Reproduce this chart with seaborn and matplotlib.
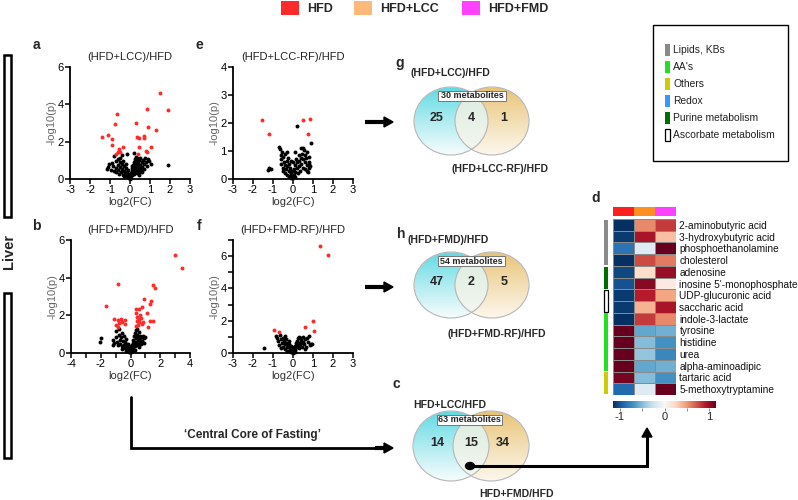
import numpy as np
import pandas as pd
import matplotlib
matplotlib.use('Agg')
import matplotlib.pyplot as plt
import seaborn as sns
from matplotlib.patches import Rectangle, Ellipse, Polygon

# ---------------- data ----------------
RED = '#ff2a2a'

a_black_fc = [-1.15, -1.05, -0.9, -0.85, -0.82, -0.78, -0.72, -0.7, -0.68, -0.62, -0.6, -0.58, -0.55, -0.52, -0.5,
              -0.48, -0.45, -0.42, -0.4, -0.38, -0.35, -0.33, -0.3, -0.28, -0.25, -0.22, -0.2, -0.18, -0.16, -0.15,
              -0.12, -0.1, -0.08, -0.06, -0.04, -0.02, 0.0, 0.02, 0.04, 0.06, 0.08, 0.1, 0.12, 0.14, 0.15, 0.17,
              0.18, 0.2, 0.22, 0.24, 0.25, 0.27, 0.28, 0.3, 0.32, 0.33, 0.35, 0.36, 0.38, 0.4, 0.42, 0.44, 0.45,
              0.48, 0.5, 0.52, 0.55, 0.58, 0.6, 0.62, 0.65, 0.68, 0.72, 0.75, 0.8, 0.85, 0.9, 0.97, 1.03, 1.88,
              -1.08, -0.95, 0.3, 0.45, -0.3, 0.1]
a_black_p = [0.55, 0.78, 0.88, 0.72, 0.45, 1.25, 0.95, 0.6, 0.35, 1.05, 0.75, 0.5, 0.25, 0.9, 1.15,
             0.62, 0.4, 0.8, 1.28, 0.55, 0.2, 0.95, 0.7, 0.45, 0.3, 0.6, 0.15, 0.82, 1.32, 0.4,
             0.25, 0.1, 0.5, 0.05, 0.2, 0.02, 0.08, 0.15, 0.3, 0.05, 0.45, 0.2, 0.6, 0.35, 0.75, 0.5,
             1.38, 0.9, 0.25, 0.65, 1.05, 0.4, 0.8, 1.2, 0.55, 0.95, 0.3, 1.1, 0.7, 0.45, 0.85, 1.0, 0.6,
             0.35, 0.75, 1.15, 0.5, 0.9, 0.65, 0.4, 1.0, 0.8, 0.55, 1.1, 0.9, 0.7, 1.05, 0.95, 0.82, 0.74,
             0.62, 0.5, 0.6, 0.2, 0.15, 0.7]
a_red_fc = [1.52, 1.88, 0.84, -0.67, 0.30, -0.76, 0.88, 1.29, -1.41, -1.11, -0.90, 0.37, 0.43, 0.69, 0.70,
            -0.92, 1.05, 0.45, -0.33, -0.57, -0.62, -0.68, -0.50, 0.80, 0.85, 0.38]
a_red_p = [4.6, 3.67, 3.75, 3.5, 3.0, 2.95, 2.8, 2.62, 2.23, 2.37, 2.14, 2.25, 2.17, 2.33, 2.2,
           1.83, 1.71, 1.73, 1.69, 1.6, 1.44, 1.36, 1.42, 1.52, 1.44, 1.34]

b_black_fc = [-2.08, -2.0, -1.2, -1.15, -1.1, -1.0, -0.95, -0.9, -0.85, -0.8, -0.75, -0.72, -0.68, -0.62, -0.58,
              -0.55, -0.5, -0.45, -0.42, -0.38, -0.35, -0.3, -0.28, -0.25, -0.2, -0.18, -0.15, -0.12, -0.1, -0.08,
              -0.05, -0.02, 0.0, 0.03, 0.05, 0.08, 0.1, 0.12, 0.15, 0.18, 0.2, 0.22, 0.25, 0.28, 0.3, 0.32, 0.35,
              0.38, 0.4, 0.42, 0.45, 0.48, 0.5, 0.52, 0.55, 0.6, 0.62, 0.65, 0.7, 0.72, 0.78, 0.82, 0.88, 0.92,
              1.0, 0.3, 0.55, -0.6, -0.05, 0.15, -0.3]
b_black_p = [0.58, 0.8, 0.45, 0.7, 0.55, 0.85, 1.15, 0.6, 0.4, 0.95, 1.25, 0.7, 0.5, 0.85, 0.35,
             1.05, 0.65, 0.45, 0.9, 0.25, 0.6, 0.4, 0.75, 0.18, 0.5, 0.3, 0.1, 0.35, 0.2, 0.05,
             0.15, 0.03, 0.1, 0.05, 0.25, 0.15, 0.4, 0.3, 0.55, 0.2, 0.7, 0.45, 0.9, 0.6, 1.05, 0.35, 0.8,
             1.2, 0.55, 0.95, 1.3, 0.7, 0.45, 0.85, 1.1, 0.6, 0.9, 0.75, 0.5, 0.85, 0.65, 0.9, 0.55, 0.8,
             0.85, 0.15, 0.3, 0.2, 0.3, 0.08, 0.12]
b_red_fc = [2.98, 3.47, -0.85, 1.48, 1.66, 0.92, 1.37, 1.28, -1.68, 0.40, 0.58, 0.78, 0.34, 1.14, 0.67, -1.14,
            -0.87, -0.63, -0.36, -0.54, -0.96, -0.85, -0.36, 0.47, 0.56, 0.72, 0.43, 0.60, 0.75, 1.28, 1.48,
            1.19, 0.38, 0.85, -0.75, 0.50]
b_red_p = [5.2, 4.53, 3.68, 3.6, 3.44, 2.87, 2.77, 2.6, 2.5, 2.34, 2.35, 2.46, 2.14, 2.12, 2.0, 1.8,
           1.73, 1.78, 1.75, 1.65, 1.49, 1.37, 1.56, 1.93, 1.8, 1.84, 1.7, 1.63, 1.52, 1.72, 1.7,
           1.38, 1.42, 1.66, 1.6, 1.48]

e_black_fc = [-1.27, -1.2, -1.12, -0.7, -0.65, -0.62, -0.6, -0.58, -0.55, -0.52, -0.5, -0.48, -0.45, -0.42,
              -0.4, -0.38, -0.35, -0.32, -0.3, -0.28, -0.25, -0.22, -0.2, -0.18, -0.15, -0.12, -0.1, -0.08,
              -0.05, -0.03, 0.0, 0.03, 0.05, 0.08, 0.1, 0.12, 0.15, 0.18, 0.2, 0.22, 0.25, 0.28, 0.3, 0.32,
              0.35, 0.38, 0.4, 0.42, 0.45, 0.48, 0.5, 0.52, 0.55, 0.58, 0.6, 0.62, 0.65, 0.68, 0.72, 0.75,
              0.78, 0.8, 0.82, 0.85, 0.9, 0.8, 0.72, -0.3, 0.1, 0.0]
e_black_p = [0.32, 0.38, 0.35, 1.15, 1.08, 0.85, 0.7, 0.55, 0.95, 0.4, 0.3, 0.78, 0.6, 0.2,
             0.5, 0.9, 0.35, 0.65, 0.15, 0.45, 0.75, 0.3, 0.55, 0.1, 0.4, 0.22, 0.65, 0.05,
             0.3, 0.12, 0.03, 0.15, 0.35, 0.08, 0.5, 0.25, 0.7, 0.4, 1.88, 0.6, 0.2, 0.85, 0.45, 0.65,
             0.3, 0.75, 1.1, 0.55, 0.9, 1.12, 0.4, 0.7, 1.05, 0.6, 0.85, 0.35, 0.75, 0.5, 0.95, 0.25,
             0.62, 0.78, 0.55, 0.45, 1.28, 0.4, 0.3, 0.95, 0.95, 0.6]
e_red_fc = [-1.53, -1.2, 0.5, 0.85, 0.77]
e_red_p = [2.1, 1.6, 2.1, 2.15, 1.6]

f_black_fc = [-1.45, -0.85, -0.8, -0.75, -0.7, -0.65, -0.6, -0.55, -0.5, -0.48, -0.45, -0.42, -0.4, -0.38,
              -0.35, -0.32, -0.3, -0.28, -0.25, -0.22, -0.2, -0.18, -0.15, -0.12, -0.1, -0.08, -0.05, -0.02,
              0.0, 0.03, 0.05, 0.08, 0.1, 0.12, 0.15, 0.18, 0.2, 0.22, 0.25, 0.28, 0.3, 0.32, 0.35, 0.38,
              0.4, 0.42, 0.45, 0.48, 0.5, 0.55, 0.6, 0.65, 0.7, 0.75, 0.8, 0.85, 0.92, 0.95, 0.6, -0.6]
f_black_p = [0.33, 1.05, 0.9, 0.75, 0.5, 1.1, 0.85, 0.6, 0.95, 0.4, 0.75, 1.05, 0.55, 0.25,
             0.85, 0.45, 0.65, 0.15, 0.35, 0.55, 0.75, 0.1, 0.3, 0.45, 0.05, 0.2, 0.35, 0.1,
             0.02, 0.15, 0.3, 0.08, 0.45, 0.2, 0.6, 0.35, 0.75, 0.5, 0.9, 0.3, 0.65, 1.0, 0.45, 0.8,
             0.6, 0.95, 0.35, 0.7, 1.0, 0.55, 0.85, 0.4, 0.95, 0.7, 1.05, 0.5, 0.58, 0.55, 0.25, 0.3]
f_red_fc = [1.37, 1.73, 1.02, 0.58, 1.05, -0.95, -0.68]
f_red_p = [6.62, 6.06, 2.01, 1.58, 1.35, 1.45, 1.33]

metabolites = ['2-aminobutyric acid', '3-hydroxybutyric acid', 'phosphoethanolamine', 'cholesterol',
               'adenosine', "inosine 5'-monophosphate", 'UDP-glucuronic acid', 'saccharic acid',
               'indole-3-lactate', 'tyrosine', 'histidine', 'urea', 'alpha-aminoadipic', 'tartaric acid',
               '5-methoxytryptamine']
z_hfd = [-1.15, -1.1, -0.85, -1.15, -1.05, -1.0, -1.1, -1.1, -1.15, 1.15, 1.15, 1.15, 1.15, 1.1, -0.9]
z_lcc = [0.55, 0.95, -0.15, 0.75, 0.2, 1.05, 0.9, 0.4, 0.8, -0.6, -0.5, -0.45, -0.6, -0.5, -0.15]
z_fmd = [0.8, 0.35, 1.15, 0.6, 1.0, 0.1, 0.45, 0.95, 0.55, -0.55, -0.7, -0.75, -0.55, -0.7, 1.15]

groups = ['HFD', 'HFD+LCC', 'HFD+FMD']
group_colors = ['#ff2020', '#ff9020', '#ff40ff']
legend_colors = ['#ff2a2a', '#fdb978', '#ff40ff']

categories = ['Lipids, KBs', "AA's", 'Others', 'Redox', 'Purine metabolism', 'Ascorbate metabolism']
cat_colors = ['#8a8a8a', '#22e022', '#cccc00', '#3399ff', '#006e00', 'white']
row_cat = [0, 0, 0, 0, 4, 4, 5, 5, 1, 1, 1, 1, 1, 2, 2]

venn_g = [25, 4, 1, 30]
venn_h = [47, 2, 5, 54]
venn_c = [14, 15, 34, 63]

# ---------------- figure ----------------
sns.set_theme(style='white')
plt.rcParams['font.family'] = ['Liberation Sans', 'DejaVu Sans']
W, H = 798, 500
fig = plt.figure(figsize=(W / 100, H / 100), dpi=100)
fig.patch.set_facecolor('white')
ov = fig.add_axes([0, 0, 1, 1])
ov.set_xlim(0, W)
ov.set_ylim(H, 0)
ov.axis('off')


def px_axes(x0, y0, x1, y1):
    return fig.add_axes([x0 / W, 1 - y1 / H, (x1 - x0) / W, (y1 - y0) / H])


def volcano(box, title, bfc, bp, rfc, rp, xlim, xticks, xlabels, ylim, yticks, ylabels):
    ax = px_axes(*box)
    ax.patch.set_alpha(0)
    sns.scatterplot(x=bfc, y=bp, color='black', s=8, linewidth=0, ax=ax, clip_on=False)
    sns.scatterplot(x=rfc, y=rp, color=RED, s=8, linewidth=0, ax=ax, clip_on=False)
    ax.set_xlim(*xlim)
    ax.set_ylim(*ylim)
    ax.set_xticks(xticks)
    ax.set_xticklabels(xlabels)
    ax.set_yticks(yticks)
    ax.set_yticklabels(ylabels)
    for s in ['top', 'right']:
        ax.spines[s].set_visible(False)
    for s in ['left', 'bottom']:
        ax.spines[s].set_color('black')
        ax.spines[s].set_linewidth(1.3)
    ax.tick_params(bottom=True, left=True, direction='out', length=3.5, width=1.1, colors='black',
                   labelsize=8, pad=1)
    ax.set_xlabel('log2(FC)', fontsize=8, color='#333333', labelpad=1)
    ax.set_ylabel('-log10(p)', fontsize=8, color='#666666', labelpad=1)
    x0, y0, x1, y1 = box
    ov.text((x0 + x1) / 2, y0 - 10, title, fontsize=8, ha='center', va='center', color='#222222')
    return ax


volcano((70, 67, 190, 179), '(HFD+LCC)/HFD', a_black_fc, a_black_p, a_red_fc, a_red_p,
        (-3, 3), range(-3, 4), [str(v) for v in range(-3, 4)], (0, 6), [0, 2, 4, 6], ['0', '2', '4', '6'])
volcano((233, 67, 353, 179), '(HFD+LCC-RF)/HFD', e_black_fc, e_black_p, e_red_fc, e_red_p,
        (-3, 3), range(-3, 4), [str(v) for v in range(-3, 4)], (0, 4), [0, 1, 2, 3, 4], ['0', '1', '2', '3', '4'])
volcano((71, 240, 190, 353), '(HFD+FMD)/HFD', b_black_fc, b_black_p, b_red_fc, b_red_p,
        (-4, 4), range(-4, 5), ['-4', '', '-2', '', '0', '', '2', '', '4'], (0, 6), [0, 2, 4, 6], ['0', '2', '4', '6'])
volcano((233, 240, 353, 353), '(HFD+FMD-RF)/HFD', f_black_fc, f_black_p, f_red_fc, f_red_p,
        (-3, 3), range(-3, 4), [str(v) for v in range(-3, 4)], (0, 7), range(0, 8),
        ['0', '', '2', '', '4', '', '6', ''])

# panel letters
for ch, x, y in [('a', 36, 45), ('e', 199, 45), ('b', 36, 226), ('f', 199, 226), ('g', 400, 63),
                 ('h', 401, 234), ('c', 396, 384), ('d', 596, 198)]:
    ov.text(x, y, ch, fontsize=10, fontweight='bold', ha='center', va='center')

# Liver label and bars
ov.text(9, 251, 'Liver', fontsize=10.5, fontweight='bold', rotation=90, ha='center', va='center')
for (y0, y1) in [(55, 217), (293, 458)]:
    ov.add_patch(Rectangle((4, y0), 7, y1 - y0, facecolor='white', edgecolor='black', lw=1.8))

# top group legend
for (x, name, col) in [(281, 'HFD', legend_colors[0]), (354, 'HFD+LCC', legend_colors[1]),
                       (462, 'HFD+FMD', legend_colors[2])]:
    ov.add_patch(Rectangle((x, 1), 18, 14, facecolor=col, edgecolor='none'))
    ov.text(x + 26, 8.5, name, fontsize=9, fontweight='bold', ha='left', va='center')

# category legend box
ov.add_patch(Rectangle((653, 25), 135, 136, facecolor='white', edgecolor='black', lw=1.0))
for i, (nm, col) in enumerate(zip(categories, cat_colors)):
    yc = 50 + i * 17
    ov.add_patch(Rectangle((665, yc - 6), 4.5, 12, facecolor=col,
                           edgecolor='black' if col == 'white' else 'none', lw=0.9))
    ov.text(673, yc, nm, fontsize=7.4, ha='left', va='center', color='#222222')

# arrows
def arrow_right(x0, x1, y, lw=3.0):
    ov.plot([x0, x1 - 8], [y, y], color='black', lw=lw, solid_capstyle='butt')
    ov.add_patch(Polygon([(x1 - 9, y - 5), (x1, y), (x1 - 9, y + 5)], closed=True, color='black'))

arrow_right(365, 393, 122)
arrow_right(365, 393, 287)
ov.plot([131, 131, 385], [397, 448, 448], color='black', lw=2.0, solid_joinstyle='miter')
arrow_right(375, 393, 448)
ov.text(253, 435, '\u2018Central Core of Fasting\u2019', fontsize=8.5, fontweight='bold', ha='center', va='center')

# venn diagrams
NARROW = ['Liberation Sans Narrow', 'Liberation Sans', 'DejaVu Sans']


def venn(cxL, cxR, cy, rx, ry, vals, top_label, top_xy, bot_label, bot_xy, box_x):
    x0, x1 = cxL - rx - 1, cxR + rx + 1
    y0, y1 = cy - ry - 1, cy + ry + 1
    nx, ny = int((x1 - x0) * 3), int((y1 - y0) * 3)
    X, Y = np.meshgrid(np.linspace(x0, x1, nx), np.linspace(y0, y1, ny))
    inL = ((X - cxL) / rx) ** 2 + ((Y - cy) / ry) ** 2 <= 1
    inR = ((X - cxR) / rx) ** 2 + ((Y - cy) / ry) ** 2 <= 1
    t = np.clip((Y - (cy - ry)) / (2 * ry), 0, 1)[..., None] ** 0.9
    img = np.zeros((ny, nx, 4))
    cL0, cL1 = np.array([0.36, 0.85, 0.89]), np.array([0.97, 0.99, 0.99])
    cR0, cR1 = np.array([0.91, 0.76, 0.45]), np.array([0.99, 0.97, 0.93])
    cO0, cO1 = np.array([0.85, 0.92, 0.86]), np.array([0.96, 0.97, 0.95])
    colL = cL0 + (cL1 - cL0) * t
    colR = cR0 + (cR1 - cR0) * t
    colO = cO0 + (cO1 - cO0) * t
    img[..., :3] = 1
    m = inL & ~inR
    img[m, :3] = colL[m]
    m = inR & ~inL
    img[m, :3] = colR[m]
    m = inL & inR
    img[m, :3] = colO[m]
    img[..., 3] = (inL | inR).astype(float)
    ov.imshow(img, extent=(x0, x1, y1, y0), interpolation='bilinear', zorder=1, aspect='auto')
    for cx in (cxL, cxR):
        ov.add_patch(Ellipse((cx, cy), 2 * rx, 2 * ry, fill=False, edgecolor='#b5b5b5', lw=0.8, zorder=2))
    ny_ = cy - 3
    for x, v in zip([cxL - 14, (cxL + cxR) / 2, cxR + 12], vals[:3]):
        ov.text(x, ny_, str(v), fontsize=9, fontweight='bold', ha='center', va='center', zorder=3)
    bx0, bx1 = box_x
    ov.add_patch(Rectangle((bx0, cy - ry + 4), bx1 - bx0, 10, facecolor='white', edgecolor='#777777',
                           lw=0.7, zorder=3))
    ov.text((bx0 + bx1) / 2, cy - ry + 9, f'{vals[3]} metabolites', fontsize=6.5, fontweight='bold',
            ha='center', va='center', zorder=4, family=NARROW)
    ov.text(top_xy[0], top_xy[1], top_label, fontsize=7.5, fontweight='bold', ha='center', va='center',
            family=NARROW)
    ov.text(bot_xy[0], bot_xy[1], bot_label, fontsize=7.5, fontweight='bold', ha='center', va='center',
            family=NARROW)


venn(451, 492, 121, 37, 34, venn_g, '(HFD+LCC)/HFD', (450, 73), '(HFD+LCC-RF)/HFD', (500, 169), (438, 506))
venn(451, 492, 285, 37, 33, venn_h, '(HFD+FMD)/HFD', (448, 240), '(HFD+FMD-RF)/HFD', (497, 334), (438, 505))
venn(451, 491, 446, 38, 35, venn_c, 'HFD+LCC/HFD', (450, 405), 'HFD+FMD/HFD', (517, 494), (437, 502))

# dot + connector arrow to heatmap
ov.add_patch(Ellipse((470, 466), 9, 7, color='black', zorder=5))
ov.plot([470, 647, 647], [466, 466, 436], color='black', lw=2.2, zorder=5, solid_joinstyle='miter')
ov.add_patch(Polygon([(642, 437), (647, 428), (652, 437)], closed=True, color='black', zorder=5))

# heatmap
hax = px_axes(613, 219, 676, 395)
cax = px_axes(613, 401, 716, 408)
df = pd.DataFrame({groups[0]: z_hfd, groups[1]: z_lcc, groups[2]: z_fmd}, index=metabolites)
sns.heatmap(df, ax=hax, cmap='RdBu_r', vmin=-1.15, vmax=1.15, cbar_ax=cax,
            cbar_kws={'orientation': 'horizontal'}, linewidths=0.4, linecolor='#8a8a8a')
hax.set_xticks([])
hax.set_xlabel('')
hax.set_ylabel('')
hax.yaxis.tick_right()
hax.set_yticks(np.arange(len(metabolites)) + 0.5)
hax.set_yticklabels(metabolites, rotation=0, fontsize=7.3, color='#111111')
hax.tick_params(axis='y', length=0, pad=2.5, right=False, left=False)
cbar = hax.collections[0].colorbar
cbar.set_ticks([-1, -0.5, 0, 0.5, 1])
cbar.set_ticklabels(['-1', '', '0', '', '1'])
cbar.outline.set_visible(False)
cax.tick_params(labelsize=8, length=2, width=0.6, color='#777777', pad=1, bottom=True)

# top group bar over heatmap
cw = (676 - 613) / 3
for i, col in enumerate(group_colors):
    ov.add_patch(Rectangle((613 + i * cw, 207), cw, 9, facecolor=col, edgecolor='none'))

# category side bar
rh = (395 - 219) / 15
r = 0
while r < 15:
    c = row_cat[r]
    n = 1
    while r + n < 15 and row_cat[r + n] == c:
        n += 1
    col = cat_colors[c]
    ov.add_patch(Rectangle((604, 219 + r * rh + 0.6), 3.5, n * rh - 1.2, facecolor=col,
                           edgecolor='black' if col == 'white' else 'none', lw=0.9))
    r += n

fig.savefig('out.png', dpi=100, facecolor='white')
